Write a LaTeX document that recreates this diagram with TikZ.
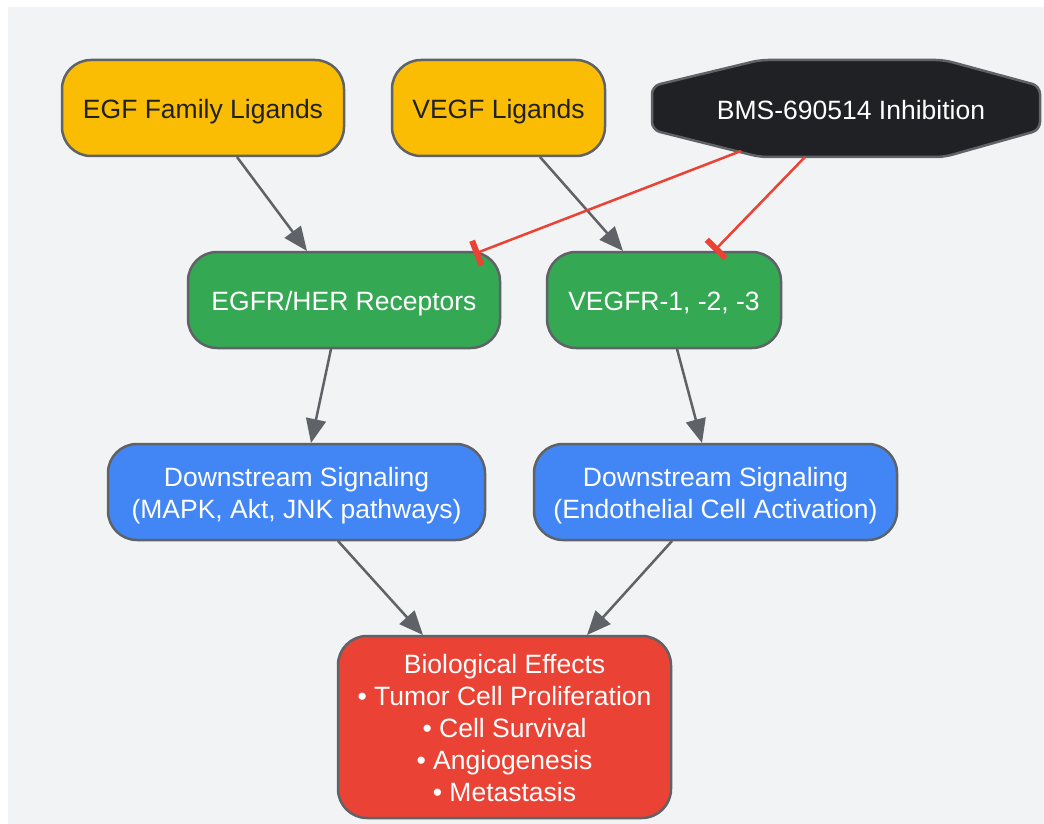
\documentclass[tikz,border=0pt]{standalone}
\usepackage{fontspec}
\setmainfont{Liberation Sans}
\usetikzlibrary{arrows.meta}
\definecolor{bggray}{HTML}{F1F3F4}
\definecolor{stroke}{HTML}{5F6368}
\definecolor{gyellow}{HTML}{FBBC04}
\definecolor{ggreen}{HTML}{34A853}
\definecolor{gblue}{HTML}{4285F4}
\definecolor{gred}{HTML}{EA4335}
\definecolor{gdark}{HTML}{202124}
\newcommand{\tstrut}{\rule{0pt}{26.75pt}}
\newcommand{\bstrut}{\rule[-5.25pt]{0pt}{5.25pt}}
\begin{document}
\begin{tikzpicture}[x=1pt,y=-1pt,
  box/.style={rounded corners=29pt, draw=stroke, line width=2.5pt, align=center,
    minimum height=96pt, inner sep=0pt, font=\fontsize{26.5}{32}\selectfont},
  ligand/.style={box, fill=gyellow, text=gdark},
  receptor/.style={box, fill=ggreen, text=white},
  signal/.style={box, fill=gblue, text=white},
  effect/.style={box, fill=gred, text=white},
  flow/.style={draw=stroke, line width=2.5pt, -{Triangle[length=24pt,width=20pt]}},
  inhib/.style={draw=gred, line width=2.5pt, -{Bar[width=26pt,line width=6pt]}}
]
\path[use as bounding box, fill=white] (0,0) rectangle (1044,824);
\fill[bggray] (8,7) rectangle (1044,824);

% nodes
\node[ligand, minimum width=282pt] (egf) at (203,108) {\tstrut EGF Family Ligands\bstrut};
\node[ligand, minimum width=213pt] (vegf) at (498.5,108) {\tstrut VEGF Ligands\bstrut};

\fill[gdark, draw=stroke, line width=2.5pt, rounded corners=8pt]
  (760,60) -- (944,60) -- (1040,86) -- (1040,130) -- (944,157) -- (760,157)
  -- (652,130) -- (652,86) -- cycle;
\node[text=white, font=\fontsize{26.5}{32}\selectfont, minimum width=388pt,
  minimum height=97pt, inner sep=0pt] (bms) at (851,108.5) {\tstrut BMS-690514 Inhibition\bstrut};

\node[receptor, minimum width=312pt] (egfr) at (344,300) {\tstrut EGFR/HER Receptors\bstrut};
\node[receptor, minimum width=234pt] (vegfr) at (664,300) {\tstrut VEGFR-1, -2, -3\bstrut};

\node[signal, minimum width=377pt] (ds1) at (296.5,492) {\tstrut Downstream Signaling\\(MAPK, Akt, JNK pathways)\bstrut};
\node[signal, minimum width=363pt] (ds2) at (715.5,492) {\tstrut Downstream Signaling\\(Endothelial Cell Activation)\bstrut};

\node[effect, minimum width=333pt, minimum height=182pt] (bio) at (504.5,727)
  {\tstrut Biological Effects\\• Tumor Cell Proliferation\\• Cell Survival\\• Angiogenesis\\• Metastasis\bstrut};

% connector end points
\coordinate (egfS) at (237,157);
\coordinate (egfrT) at (307,251);
\coordinate (vegfS) at (540,157);
\coordinate (vegfrT) at (623,251);
\coordinate (egfrS) at (331,349);
\coordinate (ds1T) at (311,443);
\coordinate (vegfrS) at (677,349);
\coordinate (ds2T) at (702,443);
\coordinate (ds1S) at (338,541);
\coordinate (bioL) at (423,635);
\coordinate (ds2S) at (672,541);
\coordinate (bioR) at (587,635);
\coordinate (bmsL) at (741,151);
\coordinate (egfrI) at (474,254);
\coordinate (bmsR) at (805,157);
\coordinate (vegfrI) at (714,251);

\draw[flow] (egfS) -- (egfrT);
\draw[flow] (vegfS) -- (vegfrT);
\draw[flow] (egfrS) -- (ds1T);
\draw[flow] (vegfrS) -- (ds2T);
\draw[flow] (ds1S) -- (bioL);
\draw[flow] (ds2S) -- (bioR);
\draw[inhib] (bmsL) -- (egfrI);
\draw[inhib] (bmsR) -- (vegfrI);
\end{tikzpicture}
\end{document}
